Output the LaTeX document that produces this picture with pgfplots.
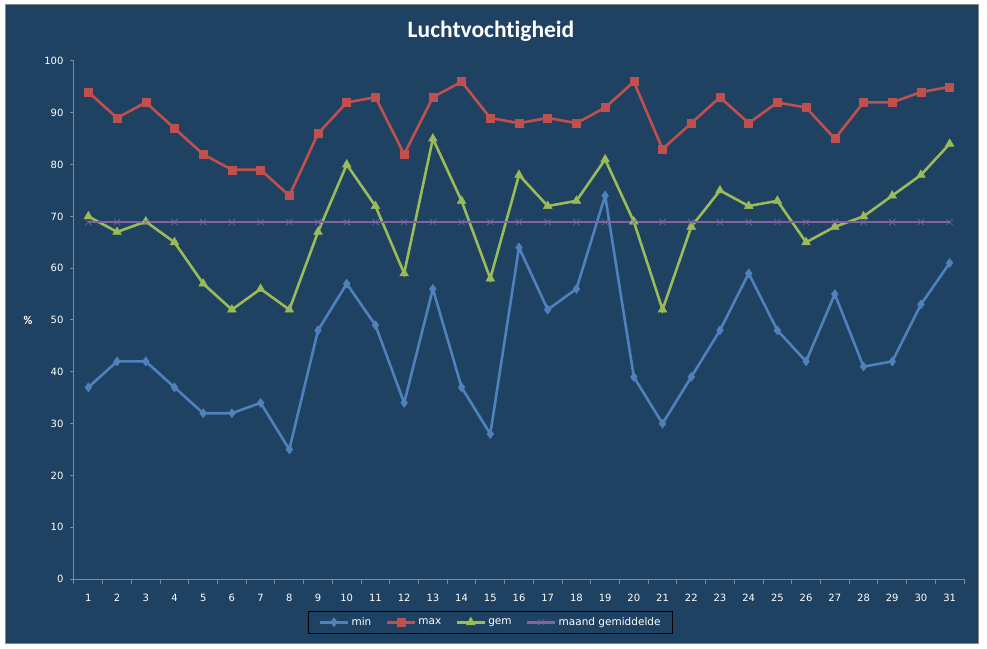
\documentclass[border=0pt]{standalone}
\usepackage{pgfplots}
\pgfplotsset{compat=1.18}
\usepackage{fontspec}
\setmainfont{Carlito}[Ligatures=NoCommon]
\newfontfamily\tickfont{DejaVu Sans}
\definecolor{bg}{HTML}{1F4263}
\definecolor{frame}{HTML}{878787}
\definecolor{cmin}{HTML}{4F81BD}
\definecolor{cmax}{HTML}{C0504D}
\definecolor{cgem}{HTML}{9BBB59}
\definecolor{cavg}{HTML}{8064A2}
\begin{document}
\begin{tikzpicture}[x=1pt,y=1pt]
  % white surround and chart area
  \fill[white] (0,0) rectangle (987,648);
  \filldraw[fill=bg,draw=frame,line width=1pt] (5,5) rectangle (978,643);
  \node[font=\bfseries\fontsize{23.5}{28}\selectfont,text=white] at (491,617) {Luchtvochtigheid};
  \begin{axis}[
    at={(74pt,69pt)}, anchor=south west,
    scale only axis,
    width=890pt, height=518pt,
    xmin=0.5, xmax=31.5,
    ymin=0, ymax=100,
    axis lines*=left,
    axis line style={frame, line width=1pt},
    xtick={1,...,31},
    ytick={0,10,...,100},
    minor xtick={0.5,1.5,...,31.5},
    major x tick style={draw=none},
    minor x tick style={frame, line width=1pt},
    y tick style={frame, line width=1pt},
    tick align=outside,
    major tick length=4pt,
    minor tick length=5pt,
    /pgf/number format/assume math mode=true,
    ticklabel style={text=white, font=\tickfont\fontsize{10}{12}\selectfont},
    xticklabel style={yshift=-8pt},
    yticklabel style={xshift=-3pt},
    ylabel={\%},
    every axis y label/.style={at={(ticklabel cs:0.5)}, anchor=center, xshift=-13pt,
      text=white, font=\bfseries\fontsize{12}{14}\selectfont},
    legend style={
      at={(0.468,-0.062)}, anchor=north,
      legend columns=-1,
      fill=bg, draw=black, line width=0.8pt,
      text=white, font=\tickfont\fontsize{10.5}{12}\selectfont,
      /tikz/every even column/.append style={column sep=12pt},
      inner ysep=4pt, inner xsep=10pt,
    },
    legend image post style={line width=2.6pt},
    legend image code/.code={
      \draw[mark repeat=2,mark phase=2] plot coordinates {(0cm,0cm) (0.5cm,0cm) (1cm,0cm)};
    },
    every axis plot/.append style={line width=2.6pt},
  ]
  \addplot[cmin, mark=diamond*, mark size=4.5pt, mark options={line width=0.5pt}] coordinates {
    (1,37) (2,42) (3,42) (4,37) (5,32) (6,32) (7,34) (8,25) (9,48) (10,57)
    (11,49) (12,34) (13,56) (14,37) (15,28) (16,64) (17,52) (18,56) (19,74) (20,39)
    (21,30) (22,39) (23,48) (24,59) (25,48) (26,42) (27,55) (28,41) (29,42) (30,53) (31,61)
  };
  \addlegendentry{min}
  \addplot[cmax, mark=square*, mark size=4pt, mark options={line width=0.5pt}] coordinates {
    (1,94) (2,89) (3,92) (4,87) (5,82) (6,79) (7,79) (8,74) (9,86) (10,92)
    (11,93) (12,82) (13,93) (14,96) (15,89) (16,88) (17,89) (18,88) (19,91) (20,96)
    (21,83) (22,88) (23,93) (24,88) (25,92) (26,91) (27,85) (28,92) (29,92) (30,94) (31,95)
  };
  \addlegendentry{max}
  \addplot[cgem, mark=triangle*, mark size=5pt, mark options={line width=0.5pt}] coordinates {
    (1,70) (2,67) (3,69) (4,65) (5,57) (6,52) (7,56) (8,52) (9,67) (10,80)
    (11,72) (12,59) (13,85) (14,73) (15,58) (16,78) (17,72) (18,73) (19,81) (20,69)
    (21,52) (22,68) (23,75) (24,72) (25,73) (26,65) (27,68) (28,70) (29,74) (30,78) (31,84)
  };
  \addlegendentry{gem}
  \addplot[cavg, mark=x, mark size=4.5pt, mark options={line width=0.6pt}] coordinates {
    (1,68.9) (2,68.9) (3,68.9) (4,68.9) (5,68.9) (6,68.9) (7,68.9) (8,68.9) (9,68.9) (10,68.9)
    (11,68.9) (12,68.9) (13,68.9) (14,68.9) (15,68.9) (16,68.9) (17,68.9) (18,68.9) (19,68.9) (20,68.9)
    (21,68.9) (22,68.9) (23,68.9) (24,68.9) (25,68.9) (26,68.9) (27,68.9) (28,68.9) (29,68.9) (30,68.9) (31,68.9)
  };
  \addlegendentry{maand gemiddelde}
  \end{axis}
\end{tikzpicture}
\end{document}
